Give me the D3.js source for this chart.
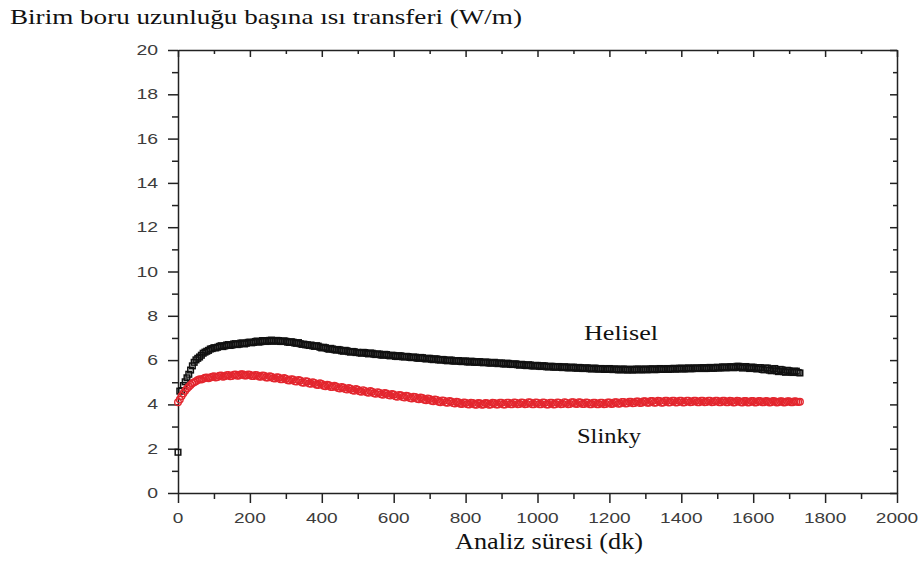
<!DOCTYPE html>
<html>
<head>
<meta charset="utf-8">
<script src="https://cdn.jsdelivr.net/npm/d3@7"></script>
<style>
  html, body { margin: 0; padding: 0; background: #fff; }
  svg { display: block; }
</style>
</head>
<body>
<svg id="chart" width="924" height="565"></svg>
<script>
// Heat transfer per unit pipe length (W/m) vs. analysis time (min), logged every 5 min
const sampleStep = 5;

const helisel = [
  1.84, 4.60, 4.62, 4.85, 5.02, 5.20, 5.36, 5.55, 5.74, 5.90,
  6.01, 6.08, 6.14, 6.22, 6.31, 6.36, 6.40, 6.44, 6.50, 6.52,
  6.56, 6.55, 6.58, 6.62, 6.65, 6.61, 6.64, 6.68, 6.70, 6.66,
  6.68, 6.73, 6.74, 6.70, 6.72, 6.77, 6.77, 6.73, 6.76, 6.80,
  6.81, 6.78, 6.80, 6.84, 6.86, 6.81, 6.83, 6.88, 6.88, 6.84,
  6.85, 6.89, 6.90, 6.85, 6.86, 6.89, 6.88, 6.84, 6.84, 6.87,
  6.85, 6.81, 6.80, 6.83, 6.81, 6.77, 6.76, 6.79, 6.74, 6.71,
  6.72, 6.69, 6.69, 6.66, 6.68, 6.64, 6.62, 6.65, 6.63, 6.58,
  6.55, 6.58, 6.56, 6.52, 6.49, 6.53, 6.50, 6.47, 6.45, 6.48,
  6.46, 6.42, 6.40, 6.44, 6.42, 6.38, 6.36, 6.39, 6.38, 6.34,
  6.35, 6.33, 6.31, 6.35, 6.34, 6.30, 6.28, 6.32, 6.31, 6.27,
  6.25, 6.28, 6.27, 6.23, 6.22, 6.26, 6.25, 6.21, 6.19, 6.22,
  6.21, 6.17, 6.16, 6.20, 6.19, 6.15, 6.14, 6.17, 6.16, 6.12,
  6.11, 6.14, 6.13, 6.09, 6.08, 6.12, 6.11, 6.07, 6.05, 6.08,
  6.08, 6.04, 6.02, 6.06, 6.05, 6.01, 6.00, 6.03, 6.02, 5.98,
  5.97, 6.00, 6.00, 5.96, 5.95, 5.98, 5.98, 5.94, 5.93, 5.96,
  5.96, 5.92, 5.91, 5.95, 5.94, 5.90, 5.90, 5.93, 5.93, 5.89,
  5.88, 5.91, 5.91, 5.87, 5.86, 5.89, 5.90, 5.86, 5.84, 5.87,
  5.87, 5.83, 5.82, 5.86, 5.85, 5.81, 5.80, 5.83, 5.83, 5.79,
  5.77, 5.81, 5.80, 5.76, 5.75, 5.79, 5.78, 5.74, 5.73, 5.76,
  5.76, 5.72, 5.71, 5.75, 5.74, 5.70, 5.69, 5.72, 5.72, 5.68,
  5.68, 5.71, 5.71, 5.67, 5.66, 5.70, 5.69, 5.65, 5.65, 5.68,
  5.68, 5.64, 5.63, 5.67, 5.66, 5.62, 5.62, 5.65, 5.65, 5.61,
  5.60, 5.63, 5.64, 5.60, 5.59, 5.62, 5.62, 5.58, 5.58, 5.61,
  5.62, 5.58, 5.57, 5.60, 5.60, 5.56, 5.56, 5.59, 5.60, 5.56,
  5.55, 5.58, 5.59, 5.55, 5.56, 5.59, 5.60, 5.56, 5.56, 5.59,
  5.60, 5.56, 5.57, 5.60, 5.61, 5.57, 5.57, 5.60, 5.62, 5.58,
  5.58, 5.61, 5.62, 5.58, 5.59, 5.62, 5.63, 5.59, 5.60, 5.63,
  5.64, 5.60, 5.60, 5.63, 5.65, 5.61, 5.61, 5.64, 5.65, 5.62,
  5.62, 5.65, 5.66, 5.62, 5.62, 5.66, 5.67, 5.63, 5.63, 5.66,
  5.68, 5.64, 5.65, 5.69, 5.69, 5.65, 5.66, 5.70, 5.70, 5.66,
  5.66, 5.72, 5.72, 5.68, 5.64, 5.70, 5.71, 5.66, 5.62, 5.68,
  5.68, 5.62, 5.60, 5.66, 5.66, 5.58, 5.56, 5.64, 5.64, 5.55,
  5.52, 5.60, 5.62, 5.52, 5.48, 5.58, 5.56, 5.48, 5.45, 5.54,
  5.52, 5.46, 5.44, 5.50, 5.50, 5.44, 5.42
];

const slinky = [
  4.10, 4.22, 4.38, 4.50, 4.62, 4.72, 4.80, 4.88, 4.96, 5.00,
  5.04, 5.10, 5.13, 5.12, 5.16, 5.20, 5.22, 5.18, 5.21, 5.25,
  5.27, 5.22, 5.24, 5.29, 5.30, 5.25, 5.27, 5.32, 5.33, 5.27,
  5.28, 5.34, 5.35, 5.29, 5.30, 5.36, 5.36, 5.30, 5.30, 5.35,
  5.34, 5.28, 5.28, 5.33, 5.32, 5.26, 5.25, 5.30, 5.29, 5.22,
  5.21, 5.27, 5.25, 5.18, 5.17, 5.23, 5.21, 5.14, 5.13, 5.19,
  5.16, 5.09, 5.08, 5.14, 5.12, 5.04, 5.03, 5.10, 5.08, 4.99,
  4.98, 5.05, 5.03, 4.94, 4.93, 5.00, 4.97, 4.89, 4.88, 4.95,
  4.92, 4.84, 4.82, 4.89, 4.86, 4.79, 4.78, 4.84, 4.81, 4.74,
  4.72, 4.79, 4.76, 4.69, 4.67, 4.74, 4.71, 4.64, 4.62, 4.69,
  4.66, 4.59, 4.57, 4.64, 4.61, 4.55, 4.53, 4.60, 4.57, 4.50,
  4.48, 4.55, 4.53, 4.46, 4.44, 4.51, 4.49, 4.42, 4.40, 4.47,
  4.45, 4.37, 4.35, 4.43, 4.41, 4.33, 4.31, 4.39, 4.37, 4.29,
  4.27, 4.35, 4.33, 4.25, 4.23, 4.31, 4.29, 4.21, 4.19, 4.27,
  4.24, 4.16, 4.14, 4.22, 4.20, 4.12, 4.10, 4.18, 4.16, 4.09,
  4.07, 4.15, 4.13, 4.06, 4.04, 4.12, 4.10, 4.03, 4.02, 4.09,
  4.07, 4.01, 4.00, 4.07, 4.06, 3.99, 3.98, 4.06, 4.05, 3.98,
  3.99, 4.06, 4.05, 3.98, 3.99, 4.07, 4.06, 3.99, 4.00, 4.08,
  4.07, 4.00, 4.00, 4.08, 4.08, 4.01, 4.01, 4.09, 4.08, 4.01,
  4.02, 4.09, 4.08, 4.01, 4.02, 4.10, 4.09, 4.01, 4.01, 4.09,
  4.08, 4.01, 4.01, 4.09, 4.08, 4.00, 4.00, 4.08, 4.07, 4.00,
  4.01, 4.09, 4.08, 4.01, 4.02, 4.10, 4.08, 4.01, 4.02, 4.10,
  4.10, 4.03, 4.02, 4.10, 4.09, 4.02, 4.02, 4.09, 4.08, 4.01,
  4.01, 4.08, 4.07, 4.01, 4.01, 4.08, 4.08, 4.01, 4.02, 4.09,
  4.09, 4.02, 4.03, 4.10, 4.10, 4.03, 4.04, 4.11, 4.11, 4.04,
  4.05, 4.12, 4.12, 4.05, 4.06, 4.13, 4.13, 4.06, 4.07, 4.14,
  4.14, 4.07, 4.08, 4.15, 4.15, 4.08, 4.09, 4.16, 4.15, 4.08,
  4.09, 4.16, 4.16, 4.09, 4.10, 4.17, 4.16, 4.09, 4.10, 4.17,
  4.16, 4.09, 4.10, 4.17, 4.17, 4.10, 4.11, 4.17, 4.16, 4.10,
  4.10, 4.17, 4.16, 4.10, 4.11, 4.17, 4.17, 4.10, 4.11, 4.17,
  4.16, 4.10, 4.10, 4.16, 4.16, 4.10, 4.10, 4.16, 4.15, 4.09,
  4.10, 4.16, 4.15, 4.10, 4.09, 4.15, 4.15, 4.09, 4.10, 4.15,
  4.15, 4.09, 4.10, 4.15, 4.15, 4.10, 4.10, 4.15, 4.14, 4.09,
  4.10, 4.15, 4.14, 4.09, 4.10, 4.14, 4.14, 4.09, 4.10, 4.14,
  4.14, 4.10, 4.10, 4.14, 4.13, 4.11, 4.12
];

const xTicks = [0, 200, 400, 600, 800, 1000, 1200, 1400, 1600, 1800, 2000];
const xMinor = [100, 300, 500, 700, 900, 1100, 1300, 1500, 1700, 1900];
const yTicks = [0, 2, 4, 6, 8, 10, 12, 14, 16, 18, 20];
const yMinor = [1, 3, 5, 7, 9, 11, 13, 15, 17, 19];

const seriesNames = ["Helisel", "Slinky"];
const yTitle = "Birim boru uzunluğu başına ısı transferi (W/m)";
const xTitle = "Analiz süresi (dk)";

// ---- layout ----
const svg = d3.select("#chart");
const W = 924, H = 565;
const m = { left: 178, right: 27, top: 50, bottom: 72 };
const pw = W - m.left - m.right, ph = H - m.top - m.bottom;

const x = d3.scaleLinear().domain([0, 2000]).range([m.left, m.left + pw]);
const y = d3.scaleLinear().domain([0, 20]).range([m.top + ph, m.top]);

const axisColor = "#222";
const labelColor = "#3c3c3c";
const sans = "'Liberation Sans', Arial, sans-serif";
const serif = "'Liberation Serif', 'Times New Roman', serif";

// text drawn with a fixed rendered width (the chart's lettering is wide)
function wideText(g, str, px, py, size, width, anchor, family, color) {
  return g.append("text")
    .attr("x", px).attr("y", py)
    .attr("text-anchor", anchor)
    .attr("font-family", family)
    .attr("font-size", size)
    .attr("fill", color)
    .attr("textLength", width)
    .attr("lengthAdjust", "spacingAndGlyphs")
    .text(str);
}

// ---- axes (outward ticks bottom/left, mirrored inward ticks top/right) ----
function styleAxis(g) {
  g.selectAll("path, line").attr("stroke", axisColor).attr("stroke-width", 1.5);
  g.selectAll("text").remove();
}

const gx = svg.append("g").attr("transform", `translate(0,${m.top + ph})`)
  .call(d3.axisBottom(x).tickValues(xTicks).tickSize(10).tickSizeOuter(0));
styleAxis(gx);
const gxm = svg.append("g").attr("transform", `translate(0,${m.top + ph})`)
  .call(d3.axisBottom(x).tickValues(xMinor).tickSize(6).tickSizeOuter(0));
styleAxis(gxm); gxm.select("path").remove();

const gxt = svg.append("g").attr("transform", `translate(0,${m.top})`)
  .call(d3.axisBottom(x).tickValues(xTicks).tickSize(7).tickSizeOuter(0));
styleAxis(gxt);
const gxtm = svg.append("g").attr("transform", `translate(0,${m.top})`)
  .call(d3.axisBottom(x).tickValues(xMinor).tickSize(4).tickSizeOuter(0));
styleAxis(gxtm); gxtm.select("path").remove();

const gy = svg.append("g").attr("transform", `translate(${m.left},0)`)
  .call(d3.axisLeft(y).tickValues(yTicks).tickSize(10).tickSizeOuter(0));
styleAxis(gy);
const gym = svg.append("g").attr("transform", `translate(${m.left},0)`)
  .call(d3.axisLeft(y).tickValues(yMinor).tickSize(6).tickSizeOuter(0));
styleAxis(gym); gym.select("path").remove();

const gyr = svg.append("g").attr("transform", `translate(${m.left + pw},0)`)
  .call(d3.axisLeft(y).tickValues(yTicks).tickSize(7).tickSizeOuter(0));
styleAxis(gyr);
const gyrm = svg.append("g").attr("transform", `translate(${m.left + pw},0)`)
  .call(d3.axisLeft(y).tickValues(yMinor).tickSize(4).tickSizeOuter(0));
styleAxis(gyrm); gyrm.select("path").remove();

// tick labels
const labels = svg.append("g");
xTicks.forEach(v => {
  const s = String(v);
  wideText(labels, s, x(v), m.top + ph + 30, 14.5, s.length * 10.6, "middle", sans, labelColor);
});
yTicks.forEach(v => {
  const s = String(v);
  wideText(labels, s, m.left - 20, y(v) + 5, 14.5, s.length * 10.8, "end", sans, labelColor);
});

// ---- data markers ----
const plot = svg.append("g");
const hPts = helisel.map((v, i) => [i * sampleStep, v]);
const sPts = slinky.map((v, i) => [i * sampleStep, v]);

const sq = 5.6;
plot.append("g").selectAll("rect").data(hPts).join("rect")
  .attr("x", d => x(d[0]) - sq / 2)
  .attr("y", d => y(d[1]) - sq / 2)
  .attr("width", sq).attr("height", sq)
  .attr("fill", "none")
  .attr("stroke", "#111")
  .attr("stroke-width", 1.5);

plot.append("g").selectAll("circle").data(sPts).join("circle")
  .attr("cx", d => x(d[0]))
  .attr("cy", d => y(d[1]))
  .attr("r", 3.3)
  .attr("fill", "none")
  .attr("stroke", "#e3262e")
  .attr("stroke-width", 1.4);

// ---- titles and series labels ----
wideText(svg, yTitle, 10, 24, 21, 512, "start", serif, "#111");
wideText(svg, xTitle, 455, 549, 23, 188, "start", serif, "#111");
wideText(svg, seriesNames[0], 584, 340, 21, 74, "start", serif, "#111");
wideText(svg, seriesNames[1], 577, 443, 20, 64, "start", serif, "#111");
</script>
</body>
</html>
